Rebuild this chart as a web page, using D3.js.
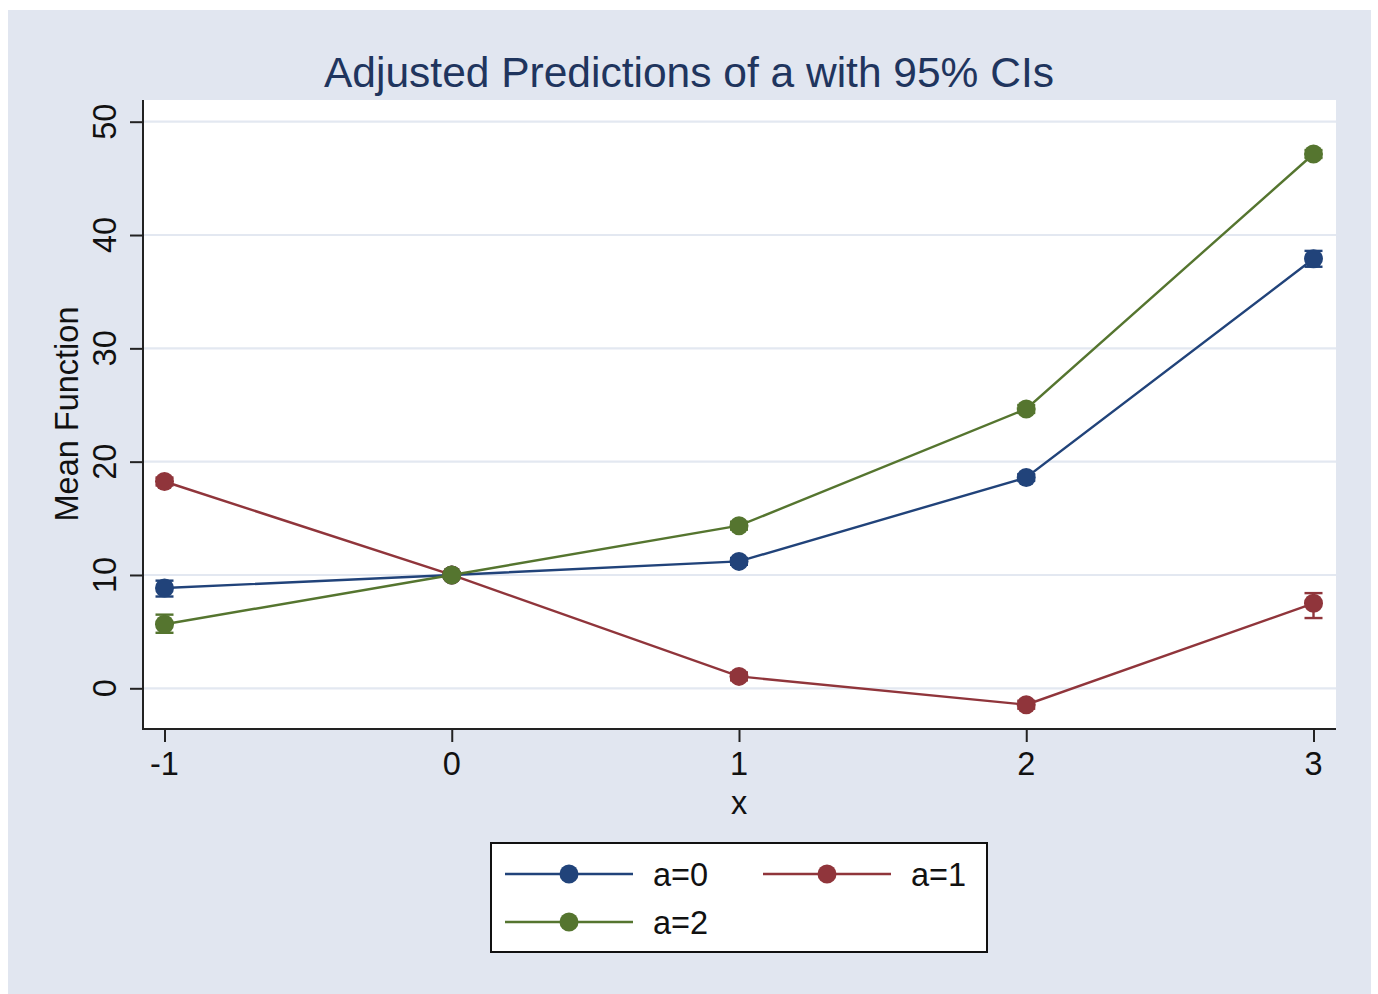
<!DOCTYPE html>
<html><head><meta charset="utf-8">
<script src="https://cdn.jsdelivr.net/npm/d3@7"></script>
<style>html,body{margin:0;padding:0;background:#fff;}svg{display:block;font-family:"Liberation Sans",Arial,Helvetica,sans-serif;}</style>
</head><body>
<svg id="c" width="1378" height="994"></svg>
<script>
const xValues = [-1, 0, 1, 2, 3];
const yTicks = [0, 10, 20, 30, 40, 50];
const seriesNames = ["a=0", "a=1", "a=2"];
const seriesColors = ["#21437a", "#90353b", "#55752f"];
const est0 = [8.85, 10.0, 11.2, 18.6, 37.9];
const est1 = [18.25, 10.0, 1.05, -1.45, 7.5];
const est2 = [5.65, 10.0, 14.35, 24.65, 47.15];
const lo0 = [8.1, 9.8, 10.9, 18.3, 37.2];
const hi0 = [9.5, 10.2, 11.5, 18.9, 38.6];
const lo1 = [17.9, 9.8, 0.7, -1.8, 6.2];
const hi1 = [18.6, 10.2, 1.4, -1.1, 8.4];
const lo2 = [4.9, 9.8, 14.0, 24.3, 46.8];
const hi2 = [6.5, 10.2, 14.7, 25.0, 47.5];
const title = "Adjusted Predictions of a with 95% CIs";
const xTitle = "x";
const yTitle = "Mean Function";

const series = [
  {name: seriesNames[0], color: seriesColors[0], est: est0, lo: lo0, hi: hi0},
  {name: seriesNames[1], color: seriesColors[1], est: est1, lo: lo1, hi: hi1},
  {name: seriesNames[2], color: seriesColors[2], est: est2, lo: lo2, hi: hi2}
];

const svg = d3.select("#c");
const pL = 143, pR = 1336, pT = 100, pB = 729;
const x = d3.scaleLinear().domain([-1, 3]).range([164.5, 1313.5]);
const y = d3.scaleLinear().domain([0, 50]).range([688.3, 121.7]);

svg.append("rect").attr("x", 8).attr("y", 10).attr("width", 1363).attr("height", 984).attr("fill", "#e1e6f0");
svg.append("rect").attr("x", pL).attr("y", pT).attr("width", pR - pL).attr("height", pB - pT).attr("fill", "#fff");

svg.append("g").selectAll("line").data(yTicks).join("line")
  .attr("x1", pL).attr("x2", pR).attr("y1", d => y(d)).attr("y2", d => y(d))
  .attr("stroke", "#e3e8f1").attr("stroke-width", 2.2);

const ya = svg.append("g").attr("transform", `translate(${pL},0)`)
  .call(d3.axisLeft(y).tickValues(yTicks).tickSize(13).tickFormat(""));
ya.select(".domain").remove();
ya.selectAll(".tick line").attr("stroke", "#222").attr("stroke-width", 2);
svg.append("line").attr("x1", pL).attr("x2", pL).attr("y1", pT).attr("y2", pB + 1).attr("stroke", "#222").attr("stroke-width", 2);
svg.append("g").selectAll("text").data(yTicks).join("text")
  .attr("transform", d => `translate(116,${y(d)}) rotate(-90)`)
  .attr("text-anchor", "middle").attr("font-size", 32.5).attr("fill", "#111").text(d => d);

const xa = svg.append("g").attr("transform", `translate(0,${pB})`)
  .call(d3.axisBottom(x).tickValues(xValues).tickSize(13).tickFormat(""));
xa.select(".domain").remove();
xa.selectAll(".tick line").attr("stroke", "#222").attr("stroke-width", 2);
svg.append("line").attr("x1", pL - 1).attr("x2", pR).attr("y1", pB).attr("y2", pB).attr("stroke", "#222").attr("stroke-width", 2);
svg.append("g").selectAll("text").data(xValues).join("text")
  .attr("x", d => x(d)).attr("y", 775).attr("text-anchor", "middle")
  .attr("font-size", 32.5).attr("fill", "#111").text(d => d);

svg.append("text").attr("x", 689).attr("y", 87).attr("text-anchor", "middle")
  .attr("font-size", 42.5).attr("fill", "#1f355e").text(title);
svg.append("text").attr("x", 739).attr("y", 814).attr("text-anchor", "middle")
  .attr("font-size", 32.5).attr("fill", "#111").text(xTitle);
svg.append("text").attr("transform", "translate(78,414) rotate(-90)").attr("text-anchor", "middle")
  .attr("font-size", 32.5).attr("fill", "#111").text(yTitle);

const line = d3.line().x(d => x(d.x)).y(d => y(d.v));
series.forEach(s => {
  const g = svg.append("g");
  const pts = xValues.map((xv, i) => ({x: xv, v: s.est[i], lo: s.lo[i], hi: s.hi[i]}));
  g.append("path").datum(pts).attr("d", line).attr("fill", "none").attr("stroke", s.color).attr("stroke-width", 2.4);
  g.selectAll(".ci").data(pts).join("line").attr("class", "ci")
    .attr("x1", d => x(d.x)).attr("x2", d => x(d.x)).attr("y1", d => y(d.lo)).attr("y2", d => y(d.hi))
    .attr("stroke", s.color).attr("stroke-width", 2.4);
  ["lo", "hi"].forEach(k => {
    g.selectAll(".cap" + k).data(pts).join("line").attr("class", "cap" + k)
      .attr("x1", d => x(d.x) - 9).attr("x2", d => x(d.x) + 9).attr("y1", d => y(d[k])).attr("y2", d => y(d[k]))
      .attr("stroke", s.color).attr("stroke-width", 2.4);
  });
  g.selectAll("circle").data(pts).join("circle")
    .attr("cx", d => x(d.x)).attr("cy", d => y(d.v)).attr("r", 9.5).attr("fill", s.color);
});

svg.append("rect").attr("x", 491).attr("y", 843).attr("width", 496).attr("height", 109)
  .attr("fill", "#fff").attr("stroke", "#111").attr("stroke-width", 2);
const legPos = [{lx: 505, ty: 874}, {lx: 763, ty: 874}, {lx: 505, ty: 922}];
series.forEach((s, i) => {
  const p = legPos[i];
  svg.append("line").attr("x1", p.lx).attr("x2", p.lx + 128).attr("y1", p.ty).attr("y2", p.ty)
    .attr("stroke", s.color).attr("stroke-width", 2.4);
  svg.append("circle").attr("cx", p.lx + 64).attr("cy", p.ty).attr("r", 9.5).attr("fill", s.color);
  svg.append("text").attr("x", p.lx + 148).attr("y", p.ty + 12).attr("font-size", 32.5).attr("fill", "#111").text(s.name);
});
</script>
</body></html>
